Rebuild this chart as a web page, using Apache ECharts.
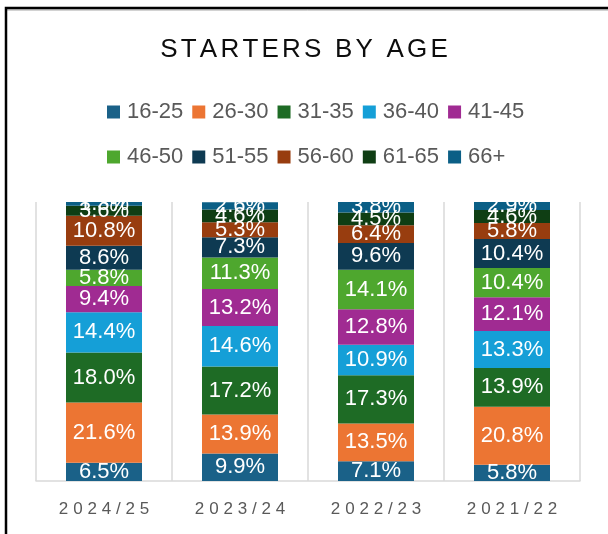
<!DOCTYPE html>
<html>
<head>
<meta charset="utf-8">
<script src="https://cdn.jsdelivr.net/npm/echarts@6/dist/echarts.min.js"></script>
<style>
html,body{margin:0;padding:0;background:#fff;}
#chart{width:608px;height:534px;}
</style>
</head>
<body>
<div id="chart"></div>
<script>
const titleText = 'STARTERS BY AGE';
const years = ['2024/25', '2023/24', '2022/23', '2021/22'];
const ageGroups = ['16-25', '26-30', '31-35', '36-40', '41-45', '46-50', '51-55', '56-60', '61-65', '66+'];
const colors = ['#1a6188', '#ec7533', '#1e6b25', '#159fd7', '#a02b92', '#4ea72e', '#0e3a52', '#983d0f', '#0f3e14', '#0b5f86'];

const v16_25 = [6.5, 9.9, 7.1, 5.8];
const v26_30 = [21.6, 13.9, 13.5, 20.8];
const v31_35 = [18.0, 17.2, 17.3, 13.9];
const v36_40 = [14.4, 14.6, 10.9, 13.3];
const v41_45 = [9.4, 13.2, 12.8, 12.1];
const v46_50 = [5.8, 11.3, 14.1, 10.4];
const v51_55 = [8.6, 7.3, 9.6, 10.4];
const v56_60 = [10.8, 5.3, 6.4, 5.8];
const v61_65 = [3.6, 4.6, 4.5, 4.6];
const v66plus = [1.3, 2.6, 3.8, 2.9];

const seriesValues = [v16_25, v26_30, v31_35, v36_40, v41_45, v46_50, v51_55, v56_60, v61_65, v66plus];

const FONT = "'Liberation Sans', Arial, sans-serif";

function spaced(str, key) {
  return str.split('').map(c => '{' + key + '|' + c + '}').join('');
}

const chart = echarts.init(document.getElementById('chart'), null, {renderer: 'canvas'});

const series = ageGroups.map((name, i) => ({
  name: name,
  type: 'bar',
  stack: 'total',
  barWidth: 76,
  data: seriesValues[i],
  itemStyle: {color: colors[i]},
  label: {
    show: true,
    position: 'inside',
    color: '#ffffff',
    fontSize: 22,
    fontFamily: FONT,
    formatter: p => p.value.toFixed(1) + '%'
  },
  emphasis: {disabled: true}
}));

const legendCommon = {
  left: 102,
  orient: 'horizontal',
  icon: 'rect',
  itemWidth: 13,
  itemHeight: 13,
  itemGap: 9,
  selectedMode: false,
  textStyle: {color: '#595959', fontSize: 22, fontFamily: FONT, padding: [0, 0, 0, 2]}
};

chart.setOption({
  animation: false,
  backgroundColor: '#ffffff',
  title: {
    text: spaced(titleText, 't'),
    left: 'center',
    top: 32,
    textStyle: {
      color: '#0d0d0d',
      fontSize: 26,
      fontWeight: 'normal',
      fontFamily: FONT,
      rich: {t: {color: '#0d0d0d', fontSize: 26, fontFamily: FONT, padding: [0, 1.6, 0, 1.6]}}
    }
  },
  legend: [
    Object.assign({}, legendCommon, {top: 96, data: ageGroups.slice(0, 5)}),
    Object.assign({}, legendCommon, {top: 141, data: ageGroups.slice(5)})
  ],
  grid: {left: 36, right: 28, top: 202, bottom: 53, containLabel: false},
  xAxis: {
    type: 'category',
    data: years,
    axisLine: {show: true, lineStyle: {color: '#d9d9d9', width: 1.5}},
    axisTick: {show: false, interval: 0},
    splitLine: {show: true, interval: 0, lineStyle: {color: '#d9d9d9', width: 1.5}},
    axisLabel: {
      interval: 0,
      color: '#595959',
      fontSize: 17,
      fontFamily: FONT,
      margin: 20,
      formatter: v => spaced(v, 'c'),
      rich: {c: {color: '#595959', fontSize: 17, fontFamily: FONT, padding: [0, 2.4, 0, 2.4]}}
    }
  },
  yAxis: {type: 'value', min: 0, max: 100, show: false, splitLine: {show: false}},
  graphic: [
    {type: 'line', shape: {x1: 7, y1: 10, x2: 608, y2: 10}, style: {stroke: '#a6a6a6', lineWidth: 1}, silent: true},
    {type: 'rect', shape: {x: 6, y: 8, width: 640, height: 560}, style: {fill: 'none', stroke: '#000000', lineWidth: 2.5}, silent: true}
  ],
  series: series
});
</script>
</body>
</html>
